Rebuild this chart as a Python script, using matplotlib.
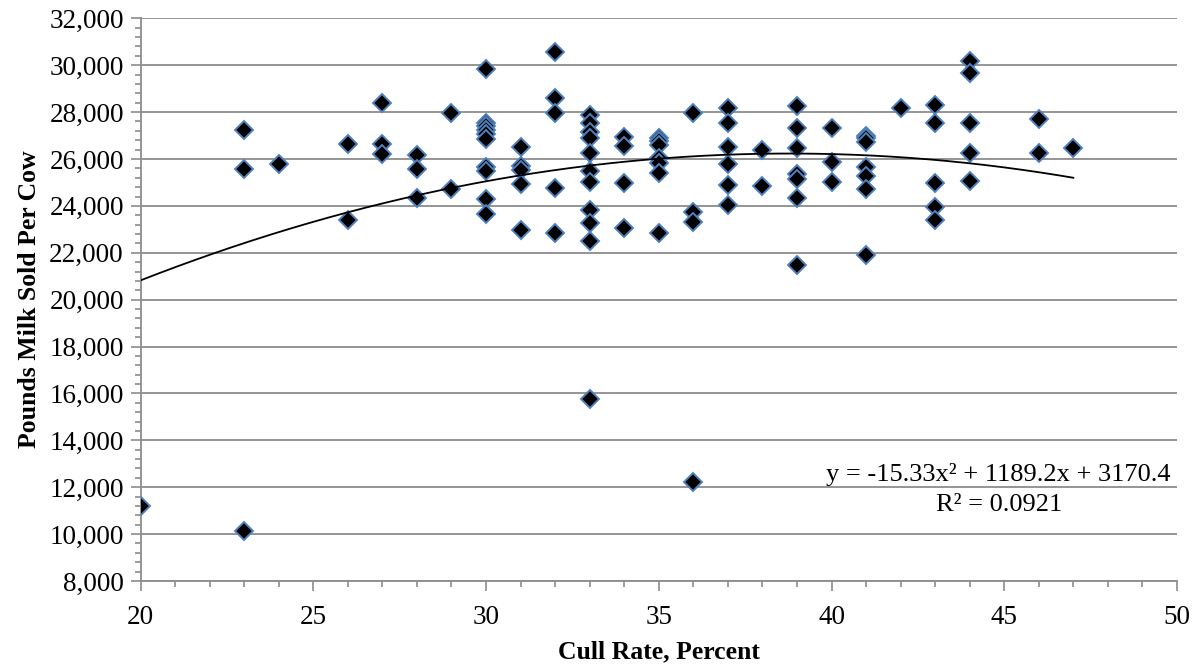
import numpy as np
import matplotlib
matplotlib.use("Agg")
import matplotlib.pyplot as plt
from matplotlib.ticker import MultipleLocator, FuncFormatter

# herd data: cull rate (%) and pounds of milk sold per cow
cull_rate = [20,
             23, 23, 23,
             24,
             26, 26,
             27, 27, 27,
             28, 28, 28,
             29, 29,
             30, 30, 30, 30, 30, 30, 30, 30, 30, 30,
             31, 31, 31, 31, 31,
             32, 32, 32, 32, 32,
             33, 33, 33, 33, 33, 33, 33, 33, 33, 33, 33,
             34, 34, 34, 34,
             35, 35, 35, 35, 35, 35, 35,
             36, 36, 36, 36,
             37, 37, 37, 37, 37, 37,
             38, 38,
             39, 39, 39, 39, 39, 39, 39,
             40, 40, 40,
             41, 41, 41, 41, 41, 41, 41,
             42,
             43, 43, 43, 43, 43,
             44, 44, 44, 44, 44,
             46, 46,
             47]
milk_sold = [11200,
             27250, 25570, 10150,
             25770,
             26630, 23400,
             28380, 26640, 26210,
             26170, 25560, 24320,
             27950, 24710,
             29830, 27550, 27400, 27250, 27050, 26850, 25670, 25500, 24280, 23650,
             26510, 25700, 25530, 24940, 22970,
             30580, 28590, 27950, 24750, 22830,
             27880, 27520, 27170, 26880, 26240, 25500, 25000, 23820, 23270, 22500, 15780,
             26950, 26550, 24990, 23040,
             26900, 26750, 26600, 26050, 25850, 25400, 22830,
             27950, 23750, 23330, 12210,
             28160, 27520, 26510, 25790, 24890, 24040,
             26400, 24860,
             28280, 27330, 26480, 25360, 25150, 24320, 21480,
             27310, 25870, 25030,
             27000, 26880, 26740, 25670, 25280, 24700, 21900,
             28160,
             28300, 27520, 24990, 23970, 23400,
             30200, 29680, 27520, 26240, 25080,
             27690, 26240,
             26480]

# polynomial trendline as printed on the chart
trend_coef = [-15.33, 1189.2, 3170.4]
trend_label = "y = -15.33x\u00b2 + 1189.2x + 3170.4\nR\u00b2 = 0.0921"

plt.rcParams['font.family'] = ['Liberation Serif', 'DejaVu Serif']

fig = plt.figure(figsize=(11.97, 6.64), dpi=100)
ax = fig.add_axes([0.1174, 0.125, 0.8659, 0.8474])

grid_col = "#8c8c8c"
ax.grid(axis='y', color=grid_col, linewidth=1.3, zorder=0)
ax.set_axisbelow(True)

ax.plot(cull_rate, milk_sold, linestyle='none', marker='D', markersize=9.5,
        markerfacecolor='black', markeredgecolor='#4f81bd', markeredgewidth=1.4,
        zorder=3)

xs = np.linspace(min(cull_rate), max(cull_rate), 200)
ax.plot(xs, np.polyval(trend_coef, xs), color='black', linewidth=1.3, zorder=4)

ax.text(0.828, 0.163, trend_label, transform=ax.transAxes, ha='center', va='center',
        fontsize=19, linespacing=1.45, multialignment='center')

ax.set_xlim(20, 50)
ax.set_ylim(8000, 32000)
ax.xaxis.set_major_locator(MultipleLocator(5))
ax.xaxis.set_minor_locator(MultipleLocator(1))
ax.yaxis.set_major_locator(MultipleLocator(2000))
ax.yaxis.set_minor_locator(MultipleLocator(400))
ax.yaxis.set_major_formatter(FuncFormatter(lambda v, p: f"{int(v):,}"))

for s in ['top', 'right']:
    ax.spines[s].set_visible(False)
for s in ['left', 'bottom']:
    ax.spines[s].set_color(grid_col)
    ax.spines[s].set_linewidth(1.3)

ax.tick_params(which='both', color=grid_col, width=1.2, labelsize=19.5)
ax.tick_params(which='major', length=7)
ax.tick_params(which='minor', length=4)
ax.tick_params(axis='x', pad=10)
ax.tick_params(axis='y', pad=5)

ax.set_xlabel("Cull Rate, Percent", fontsize=18.5, fontweight='bold', labelpad=8)
ax.set_ylabel("Pounds Milk Sold Per Cow", fontsize=18.5, fontweight='bold', labelpad=6)

fig.savefig("out.png", dpi=100)
